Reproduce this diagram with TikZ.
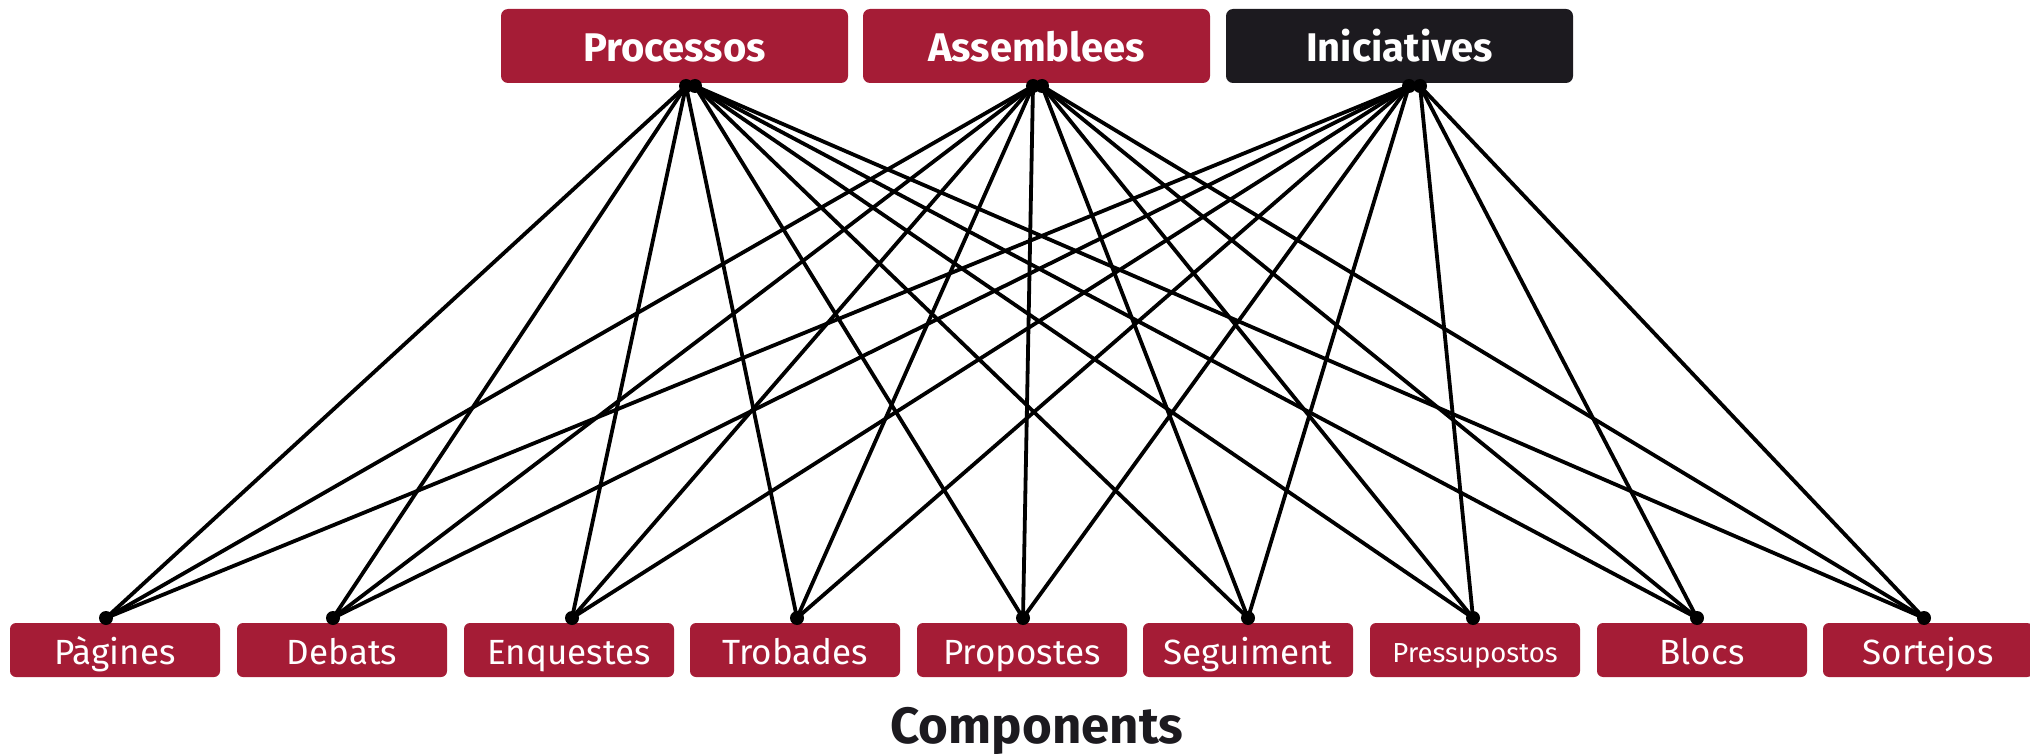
\documentclass[tikz,border=0pt]{standalone}
\usepackage{fontspec}
\setmainfont{Fira Sans}
\definecolor{dred}{RGB}{165,28,54}
\definecolor{dblk}{RGB}{28,26,31}
\begin{document}
\begin{tikzpicture}[x=1pt,y=-1pt,
  topbox/.style={rectangle, rounded corners=7pt, fill=dred, text=white, minimum width=347pt, minimum height=74pt, inner sep=0pt, text height=32pt, text depth=0pt, font=\fontsize{40}{44}\selectfont\bfseries},
  compbox/.style={rectangle, rounded corners=6pt, fill=dred, text=white, minimum width=210pt, minimum height=54pt, inner sep=0pt, text height=28pt, text depth=0pt, font=\fontsize{35}{38}\selectfont},
  link/.style={line width=3.8pt, draw=black},
  enddot/.style={fill=black}]
\useasboundingbox (0,0) rectangle (2030,754);
% top nodes
\node[topbox] (proc) at (674.5,46) {Processos};
\node[topbox] (asse) at (1036.5,46) {Assemblees};
\node[topbox, fill=dblk] (inic) at (1399.5,46) {Iniciatives};
% component nodes
\node[compbox] (pag) at (115,650) {Pàgines};
\node[compbox] (deb) at (342,650) {Debats};
\node[compbox] (enq) at (569,650) {Enquestes};
\node[compbox] (tro) at (795,650) {Trobades};
\node[compbox] (pro) at (1022,650) {Propostes};
\node[compbox] (seg) at (1248,650) {Seguiment};
\node[compbox, font=\fontsize{27.5}{30}\selectfont, text height=24pt] (pre) at (1475,650) {Pressupostos};
\node[compbox] (blo) at (1702,650) {Blocs};
\node[compbox] (sor) at (1928,650) {Sortejos};
\node[text=dblk, font=\fontsize{51}{56}\selectfont\bfseries] (title) at (1037,731) {Components};
% connector ends
\coordinate (procL) at (686,86);
\coordinate (procR) at (695,86);
\coordinate (asseL) at (1033,86);
\coordinate (asseR) at (1042,86);
\coordinate (inicL) at (1409,86);
\coordinate (inicR) at (1420,86);
\coordinate (pagT) at (106,618);
\coordinate (debT) at (333,618);
\coordinate (enqT) at (572,618);
\coordinate (troT) at (797,618);
\coordinate (proT) at (1023,618);
\coordinate (segT) at (1248,618);
\coordinate (preT) at (1473,618);
\coordinate (bloT) at (1697,618);
\coordinate (sorT) at (1924,618);
% connectors
\foreach \c in {pag,deb,enq,tro} \draw[link] (procL) -- (\c T);
\foreach \c in {pro,seg,pre,blo,sor} \draw[link] (procR) -- (\c T);
\foreach \c in {pag,deb,enq,tro,pro} \draw[link] (asseL) -- (\c T);
\foreach \c in {seg,pre,blo,sor} \draw[link] (asseR) -- (\c T);
\foreach \c in {pag,deb,enq,tro,pro,seg} \draw[link] (inicL) -- (\c T);
\foreach \c in {pre,blo,sor} \draw[link] (inicR) -- (\c T);
% dots
\foreach \p in {procL,procR,asseL,asseR,inicL,inicR,pagT,debT,enqT,troT,proT,segT,preT,bloT,sorT}
  \fill[enddot] (\p) circle (7pt);
\end{tikzpicture}
\end{document}
